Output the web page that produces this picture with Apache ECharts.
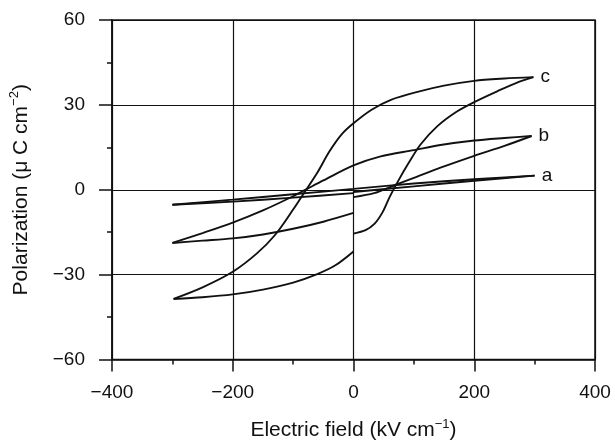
<!DOCTYPE html>
<html>
<head>
<meta charset="utf-8">
<script src="https://cdn.jsdelivr.net/npm/echarts@6/dist/echarts.min.js"></script>
<style>
  html, body { margin: 0; padding: 0; background: #fff; }
  #chart { width: 615px; height: 446px; }
</style>
</head>
<body>
<div id="chart"></div>
<script>
// axis ranges (kV/cm and uC/cm2)
const xRange = [-400, 400];
const xStep = 200;
const yRange = [-60, 60];
const yStep = 30;

// loop c: starts at E=0, goes up to the tip, back along the upper branch, then the lower branch to 0
const cRise = [[0, -15.5], [20, -14.3], [35, -12], [48, -8], [60, -2.5], [75, 3.5], [90, 9], [111, 16], [139, 22.5], [170, 27.5], [200, 31], [240, 35], [270, 37.8], [298, 39.8]];
const cUpper = [[298, 39.8], [250, 39.3], [200, 38.5], [150, 36.8], [106, 34.6], [62, 31.8], [30, 28.3], [0, 23.5], [-20, 19.5], [-40, 13.5], [-60, 6], [-80, -0.5], [-100, -7], [-130, -16], [-160, -22.5], [-200, -29], [-250, -34.5], [-298, -38.6]];
const cLower = [[-298, -38.6], [-250, -38], [-200, -37], [-150, -35.3], [-100, -32.8], [-60, -29.8], [-30, -26.7], [0, -21.8]];

// loop b
const bRise = [[0, -2.6], [34, -1.2], [67, 1.5], [100, 4.2], [144, 7.8], [200, 12], [250, 15.5], [295, 19]];
const bUpper = [[295, 19], [250, 18.3], [200, 17.4], [144, 15.8], [100, 14], [45, 11.8], [0, 8.6], [-50, 3.3], [-76, 0.4], [-100, -2.3], [-150, -7.3], [-200, -11.6], [-250, -15.3], [-300, -18.8]];
const bLower = [[-300, -18.8], [-250, -18], [-200, -17.2], [-150, -15.8], [-100, -13.8], [-50, -11.3], [0, -8.2]];

// loop a (almost closed)
const aRise = [[0, -0.8], [100, 1.2], [200, 3.2], [300, 5]];
const aUpper = [[300, 5], [200, 3.7], [100, 2.2], [0, 0.3], [-100, -1.6], [-200, -3.5], [-300, -5.3]];
const aLower = [[-300, -5.3], [-200, -4.2], [-100, -2.8], [0, -1.2]];

const ink = "#111";
const font = "'Liberation Sans', Arial, sans-serif";

const fmtTick = (v) => (v < 0 ? "\u2212" + Math.abs(v) : String(v));

const branch = (points, tag) => ({
  type: "line",
  data: points,
  smooth: 0.3,
  showSymbol: false,
  symbol: "none",
  lineStyle: { color: ink, width: 1.9 },
  endLabel: tag
    ? { show: true, formatter: tag, distance: 7, color: ink, fontSize: 19, fontFamily: font }
    : { show: false },
  silent: true
});

const chart = echarts.init(document.getElementById("chart"));

const axisName = (main, sup, tail) => ({
  text: "{t|" + main + "}{s|" + sup + "}{t|" + tail + "}",
  rich: {
    t: { fontSize: 21, lineHeight: 26, fontFamily: font, color: ink },
    s: { fontSize: 13, lineHeight: 14, verticalAlign: "top", fontFamily: font, color: ink }
  }
});

const xName = axisName("Electric field (kV cm", "\u22121", ")");
const yName = axisName("Polarization (\u03bc C cm", "\u22122", ")");

chart.setOption({
  animation: false,
  backgroundColor: "#fff",
  grid: { left: 110, right: 20, top: 20, bottom: 86, show: true, borderColor: ink, borderWidth: 1.5 },
  xAxis: {
    type: "value",
    min: xRange[0],
    max: xRange[1],
    interval: xStep,
    name: xName.text,
    nameLocation: "middle",
    nameGap: 58,
    nameTextStyle: { rich: xName.rich },
    axisLine: { onZero: false, lineStyle: { color: ink, width: 1.5 } },
    axisTick: { inside: false, length: 12, lineStyle: { color: ink, width: 1.5 } },
    minorTick: { show: true, splitNumber: 2, length: 5, lineStyle: { color: ink, width: 1.5 } },
    axisLabel: { margin: 24, fontSize: 19, color: ink, fontFamily: font, formatter: fmtTick },
    splitLine: { show: true, lineStyle: { color: ink, width: 1.2 } }
  },
  yAxis: {
    type: "value",
    min: yRange[0],
    max: yRange[1],
    interval: yStep,
    name: yName.text,
    nameLocation: "middle",
    nameRotate: 90,
    nameGap: 78,
    nameTextStyle: { rich: yName.rich },
    axisLine: { onZero: false, lineStyle: { color: ink, width: 1.5 } },
    axisTick: { inside: false, length: 13, lineStyle: { color: ink, width: 1.5 } },
    minorTick: { show: true, splitNumber: 2, length: 5, lineStyle: { color: ink, width: 1.5 } },
    axisLabel: { margin: 27, fontSize: 19, color: ink, fontFamily: font, formatter: fmtTick },
    splitLine: { show: true, lineStyle: { color: ink, width: 1.2 } }
  },
  series: [
    branch(cRise, "c"), branch(cUpper), branch(cLower),
    branch(bRise, "b"), branch(bUpper), branch(bLower),
    branch(aRise, "a"), branch(aUpper), branch(aLower)
  ]
});

window.addEventListener("resize", () => chart.resize());
</script>
</body>
</html>
